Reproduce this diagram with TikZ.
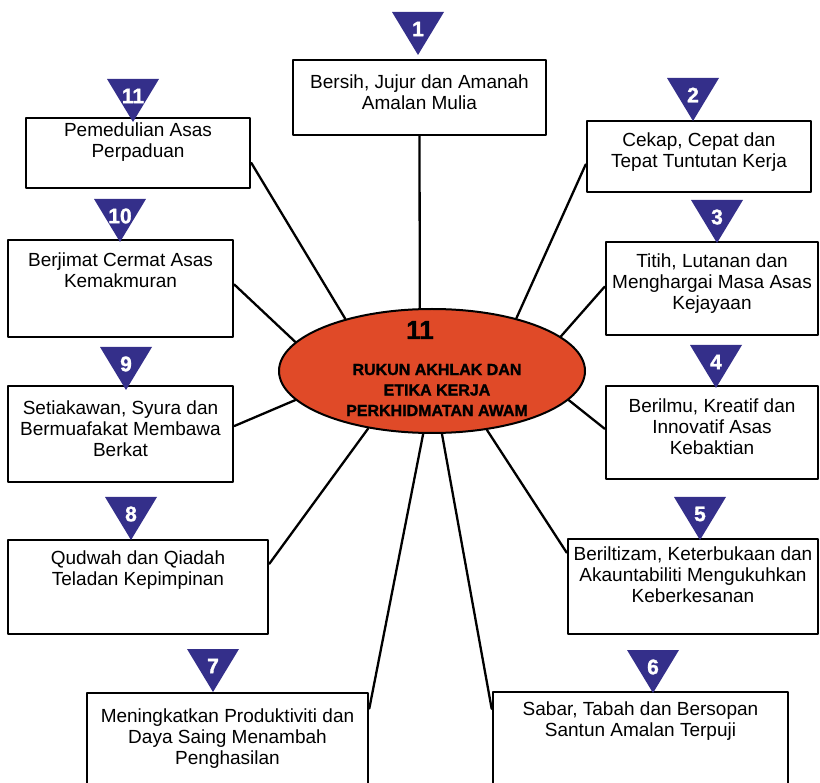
\documentclass[tikz,border=0pt]{standalone}
\usepackage{fontspec}
\setmainfont{Liberation Sans}
\newfontfamily\heavyfont[FakeBold=1.5]{Liberation Sans Bold}
\usetikzlibrary{shapes.geometric}
\definecolor{tri}{RGB}{52,47,138}
\definecolor{ovalred}{RGB}{224,74,40}
\begin{document}
\begin{tikzpicture}[x=1pt, y=-1pt, line join=round, line cap=round,
		box/.style={draw, rectangle, line width=2.6pt, inner sep=0pt},
		txt/.style={align=center, font=\fontsize{19}{21}\selectfont},
		num/.style={text=white, font=\heavyfont\fontsize{21}{21}\selectfont},
		heavytxt/.style={align=center, font=\heavyfont\fontsize{16}{20.5}\selectfont},
		link/.style={line width=2.3pt}]
	\useasboundingbox (0,0) rectangle (820,783);
	\clip (0,0) rectangle (820,783);
	% boxes
	\node[box, minimum width=253pt, minimum height=75pt] (b1) at (419.5,97.5) {};
	\node[box, minimum width=224pt, minimum height=71pt] (b2) at (699,156.5) {};
	\node[box, minimum width=212pt, minimum height=93pt] (b3) at (712,288.5) {};
	\node[box, minimum width=212pt, minimum height=93pt] (b4) at (712,432.5) {};
	\node[box, minimum width=250pt, minimum height=95pt] (b5) at (693,586.5) {};
	\node[box, minimum width=295pt, minimum height=108pt] (b6) at (640.5,746) {};
	\node[box, minimum width=281pt, minimum height=107pt] (b7) at (227.5,746.5) {};
	\node[box, minimum width=260pt, minimum height=94pt] (b8) at (138,587) {};
	\node[box, minimum width=225pt, minimum height=96pt] (b9) at (120.5,434) {};
	\node[box, minimum width=225pt, minimum height=97pt] (b10) at (120.5,288.5) {};
	\node[box, minimum width=224pt, minimum height=70pt] (b11) at (138,153) {};
	\node[txt] (t1) at (419.5,92) {Bersih, Jujur dan Amanah\\Amalan Mulia};
	\node[txt] (t2) at (699,152.5) {Cekap, Cepat dan\\Tepat Tuntutan Kerja};
	\node[txt] (t3) at (712,283.5) {Titih, Lutanan dan\\Menghargai Masa Asas\\Kejayaan};
	\node[txt] (t4) at (712,427) {Berilmu, Kreatif dan\\Innovatif Asas\\Kebaktian};
	\node[txt] (t5) at (693,575) {Beriltizam, Keterbukaan dan\\Akauntabiliti Mengukuhkan\\Keberkesanan};
	\node[txt] (t6) at (640.5,721.5) {Sabar, Tabah dan Bersopan\\Santun Amalan Terpuji};
	\node[txt] (t7) at (227.5,739) {Meningkatkan Produktiviti dan\\Daya Saing Menambah\\Penghasilan};
	\node[txt] (t8) at (138,570) {Qudwah dan Qiadah\\Teladan Kepimpinan};
	\node[txt] (t9) at (120.5,428.5) {Setiakawan, Syura dan\\Bermuafakat Membawa\\Berkat};
	\node[txt] (t10) at (120.5,270.5) {Berjimat Cermat Asas\\Kemakmuran};
	\node[txt] (t11) at (138,142.5) {Pemedulian Asas\\Perpaduan};
	% centre
	\node[ellipse, draw, fill=ovalred, line width=2pt, minimum width=306pt, minimum height=124pt, inner sep=0pt] (ell) at (432,371) {};
	\node[heavytxt, font=\heavyfont\fontsize{26}{26}\selectfont] (e0) at (420,330) {11};
	\node[heavytxt] (e1) at (437,390) {RUKUN AKHLAK DAN\\ETIKA KERJA\\PERKHIDMATAN AWAM};
	\draw[link] (b1.south) -- (ell.101);
	\draw[link] (b2.184) -- (ell.32);
	\draw[link] (b3.179) -- (ell.15);
	\draw[link] (b4.178) -- (ell.-12);
	\draw[link] (b5.165) -- (ell.-47);
	\draw[link] (b6.166) -- (ell.-81);
	\draw[link] (b7.15) -- (ell.-98);
	\draw[link] (b8.10) -- (ell.222);
	\draw[link] (b9.4) -- (ell.192);
	\draw[link] (b10.2) -- (ell.168);
	\draw[link] (b11.-5) -- (ell.149);
	% markers
	\foreach \n/\x/\y in {1/418/12, 2/693/78, 3/717/200, 4/716/345, 5/700/497, 6/653/650,
			7/213/649, 8/131/497, 9/126/347, 10/120/199, 11/133/79}{
		\fill[tri] (\x-26,\y) -- (\x+26,\y) -- (\x,\y+43) -- cycle;
		\node[num] (n\n) at (\x,\y+17) {\n};
	}
\end{tikzpicture}
\end{document}
